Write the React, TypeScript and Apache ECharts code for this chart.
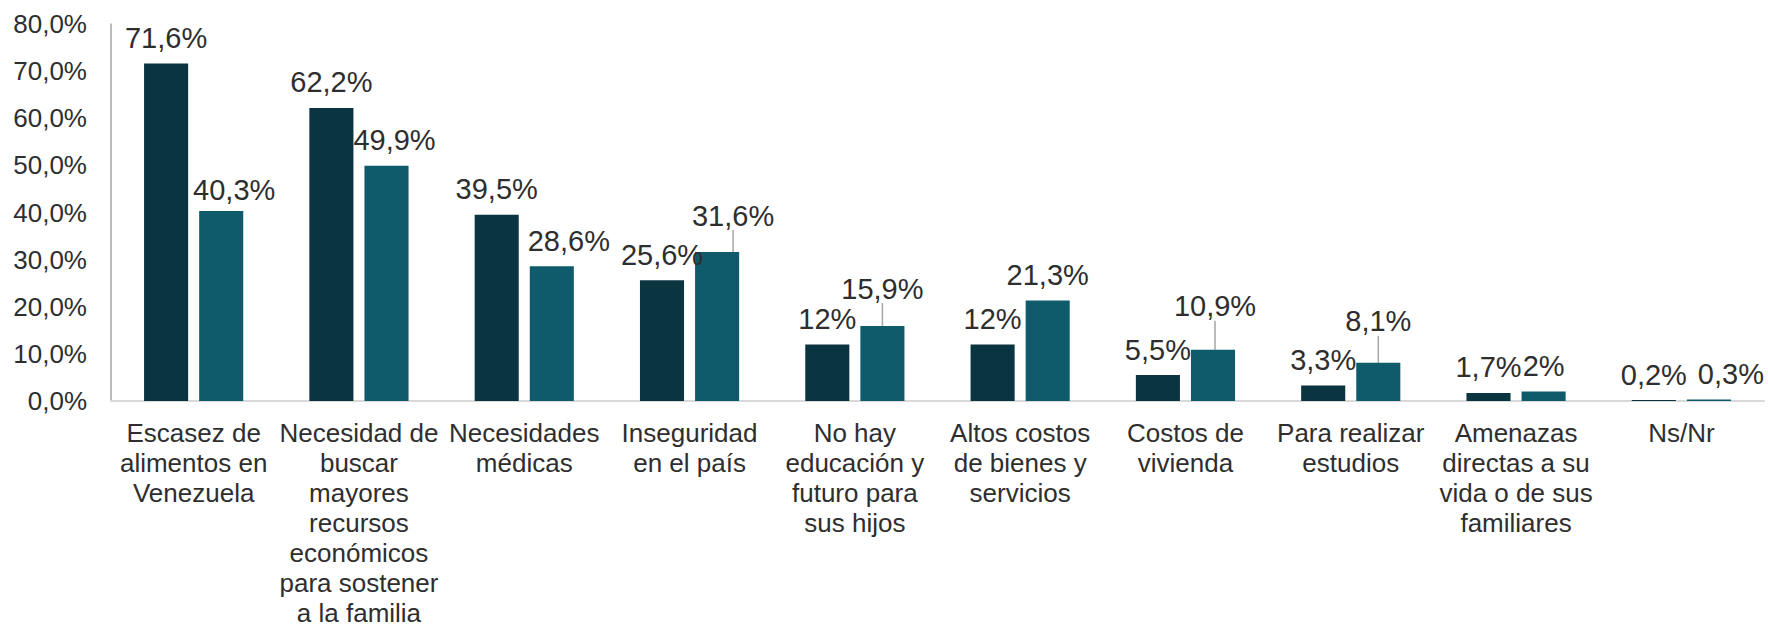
import React, { useEffect, useRef } from "react";
import * as echarts from "echarts";

const categories: string[] = [
  "Escasez de\nalimentos en\nVenezuela",
  "Necesidad de\nbuscar\nmayores\nrecursos\neconómicos\npara sostener\na la familia",
  "Necesidades\nmédicas",
  "Inseguridad\nen el país",
  "No hay\neducación y\nfuturo para\nsus hijos",
  "Altos costos\nde bienes y\nservicios",
  "Costos de\nvivienda",
  "Para realizar\nestudios",
  "Amenazas\ndirectas a su\nvida o de sus\nfamiliares",
  "Ns/Nr",
];

const seriesA: number[] = [71.6, 62.2, 39.5, 25.6, 12, 12, 5.5, 3.3, 1.7, 0.2];
const seriesB: number[] = [40.3, 49.9, 28.6, 31.6, 15.9, 21.3, 10.9, 8.1, 2, 0.3];

const yTicks = { min: 0, max: 80, interval: 10 };

// label nudges (Excel-style manual placement) for series B, keyed by index
const labelShiftB: Record<number, { dx: number; dy: number }> = {
  0: { dx: 13, dy: 4 },
  1: { dx: 8, dy: 0 },
  2: { dx: 17, dy: 0 },
  3: { dx: 16, dy: -11 },
  4: { dx: 0, dy: -12 },
  6: { dx: 2, dy: -18 },
  7: { dx: 0, dy: -16 },
  9: { dx: 22, dy: 0 },
};
const leaderB = [3, 4, 6, 7];

const FONT = "'Liberation Sans', Arial, sans-serif";
const TEXT = "#2e2e2e";

const fmtVal = (v: number) => String(v).replace(".", ",") + "%";

export default function App() {
  const ref = useRef<HTMLDivElement>(null);
  useEffect(() => {
    document.body.style.margin = "0";
    if (!ref.current) return;
    const chart = echarts.init(ref.current, undefined, { renderer: "svg" });
    const labelBase = {
      show: true,
      position: "top" as const,
      distance: 11,
      fontFamily: FONT,
      fontSize: 29,
      color: TEXT,
      formatter: (p: any) => fmtVal(p.value),
    };
    chart.setOption({
      animation: false,
      backgroundColor: "#ffffff",
      textStyle: { fontFamily: FONT },
      grid: {
        left: 111,
        right: 4,
        top: 24,
        bottom: 226,
        containLabel: false,
        outerBoundsMode: "none",
      },
      xAxis: {
        type: "category",
        data: categories,
        axisLine: { show: true, lineStyle: { color: "#d9d9d9", width: 2 } },
        axisTick: { show: false },
        axisLabel: {
          interval: 0,
          margin: 17,
          fontFamily: FONT,
          fontSize: 26,
          lineHeight: 30,
          color: TEXT,
          align: "center",
        },
      },
      yAxis: {
        type: "value",
        min: yTicks.min,
        max: yTicks.max,
        interval: yTicks.interval,
        splitLine: { show: false },
        axisTick: { show: false },
        axisLine: { show: true, lineStyle: { color: "#a6a6a6", width: 1.5 } },
        axisLabel: {
          margin: 24,
          fontFamily: FONT,
          fontSize: 26,
          color: TEXT,
          formatter: (v: number) => v.toFixed(1).replace(".", ",") + "%",
        },
      },
      series: [
        {
          type: "bar",
          name: "A",
          data: seriesA,
          barGap: "25%",
          barCategoryGap: "40%",
          itemStyle: { color: "#0b3441" },
          label: labelBase,
        },
        {
          type: "bar",
          name: "B",
          data: seriesB.map((v, i) => ({
            value: v,
            labelLine: { show: leaderB.includes(i) },
          })),
          barGap: "25%",
          barCategoryGap: "40%",
          itemStyle: { color: "#0f5b6c" },
          label: labelBase,
          labelLine: { lineStyle: { color: "#a6a6a6", width: 1.5 } },
          labelLayout: (p: any) => {
            const s = labelShiftB[p.dataIndex];
            return s ? { dx: s.dx, dy: s.dy } : {};
          },
        },
      ],
    });
    return () => chart.dispose();
  }, []);
  return <div ref={ref} style={{ width: 1768, height: 627 }} />;
}
